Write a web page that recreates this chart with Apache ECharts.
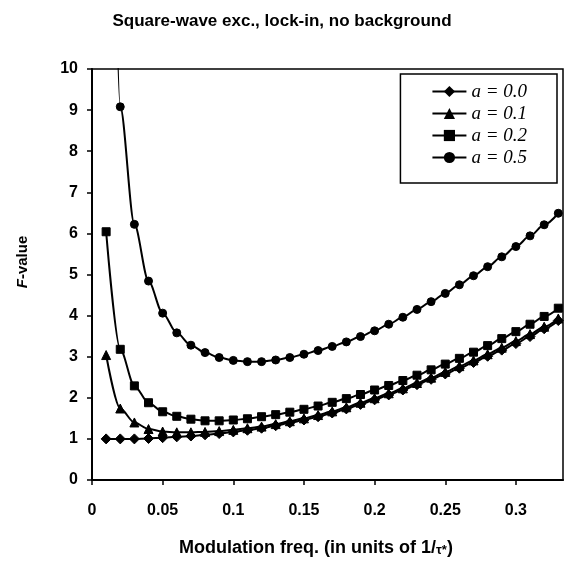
<!DOCTYPE html>
<html>
<head>
<meta charset="utf-8">
<script src="https://cdn.jsdelivr.net/npm/echarts@6/dist/echarts.min.js"></script>
<style>html,body{margin:0;padding:0;background:#fff}#c{width:566px;height:561px}</style>
</head>
<body>
<div id="c"></div>
<script>
// Data
const xValues = [0.01,0.02,0.03,0.04,0.05,0.06,0.07,0.08,0.09,0.10,0.11,0.12,0.13,0.14,0.15,0.16,0.17,0.18,0.19,0.20,0.21,0.22,0.23,0.24,0.25,0.26,0.27,0.28,0.29,0.30,0.31,0.32,0.33];
const a00 = [1.00,1.00,1.00,1.01,1.03,1.05,1.07,1.10,1.13,1.17,1.21,1.26,1.32,1.39,1.46,1.54,1.63,1.73,1.84,1.95,2.07,2.19,2.32,2.45,2.58,2.72,2.86,3.01,3.16,3.32,3.49,3.68,3.88];
const a01 = [3.04,1.74,1.40,1.24,1.18,1.16,1.16,1.17,1.19,1.22,1.26,1.30,1.36,1.43,1.50,1.58,1.67,1.77,1.88,1.99,2.11,2.23,2.36,2.49,2.63,2.77,2.91,3.06,3.22,3.38,3.55,3.73,3.93];
const a02 = [6.04,3.18,2.29,1.88,1.66,1.55,1.48,1.44,1.44,1.46,1.49,1.54,1.59,1.65,1.72,1.80,1.89,1.98,2.08,2.19,2.30,2.42,2.55,2.68,2.82,2.96,3.11,3.27,3.44,3.61,3.79,3.98,4.18];
const a05 = [27.0,9.08,6.22,4.84,4.06,3.58,3.28,3.10,2.98,2.91,2.88,2.88,2.92,2.98,3.06,3.15,3.25,3.36,3.49,3.63,3.79,3.96,4.15,4.34,4.54,4.75,4.97,5.19,5.43,5.68,5.94,6.21,6.49];
const seriesNames = ['a = 0.0','a = 0.1','a = 0.2','a = 0.5'];
const seriesSymbols = ['diamond','triangle','rect','circle'];
const xTicks = [0,0.05,0.1,0.15,0.2,0.25,0.3];
const yTicks = [0,1,2,3,4,5,6,7,8,9,10];

const allData = [a00,a01,a02,a05];
const symSize = {diamond:10, triangle:9, rect:8, circle:8};

const chart = echarts.init(document.getElementById('c'), null, {renderer:'canvas'});
const sans = 'Liberation Sans, Arial, sans-serif';
chart.setOption({
  animation:false,
  backgroundColor:'#fff',
  title:{
    text:'Square-wave exc., lock-in, no background',
    left:277, top:8, textAlign:'center',
    textStyle:{fontFamily:sans, fontWeight:'bold', fontSize:17, color:'#000'}
  },
  grid:{left:92, right:3, top:69, bottom:81, show:true, borderColor:'#000', borderWidth:1.5, containLabel:false},
  legend:{
    orient:'vertical', right:9, top:74,
    padding:[8,30,16,31],
    itemWidth:34, itemHeight:14, itemGap:3,
    borderColor:'#000', borderWidth:1.5, backgroundColor:'#fff',
    textStyle:{fontFamily:'Liberation Serif, Times New Roman, serif', fontStyle:'italic', fontSize:19, lineHeight:19, color:'#000'},
    data:seriesNames
  },
  xAxis:{
    type:'value', min:0, max:1/3, interval:0.05,
    axisLine:{lineStyle:{color:'#000', width:2}},
    axisTick:{show:true, length:5, lineStyle:{color:'#000', width:1.5}},
    splitLine:{show:false},
    axisLabel:{
      margin:23, color:'#000', fontFamily:sans, fontWeight:'bold', fontSize:16,
      showMaxLabel:false,
      formatter:function(v){
        for (const t of xTicks){ if (Math.abs(v-t)<1e-9) return String(t); }
        return '';
      }
    }
  },
  yAxis:{
    type:'value', min:0, max:10, interval:1,
    axisLine:{show:true, lineStyle:{color:'#000', width:2}},
    axisTick:{show:true, length:5, lineStyle:{color:'#000', width:1.5}},
    splitLine:{show:false},
    axisLabel:{
      margin:14, color:'#000', fontFamily:sans, fontWeight:'bold', fontSize:16,
      formatter:function(v){ return yTicks.indexOf(v)>=0 ? String(v) : ''; }
    }
  },
  graphic:[
    {type:'text', x:23, y:262, rotation:Math.PI/2,
     style:{text:'{i|F}-value', align:'center', verticalAlign:'middle',
       fontFamily:sans, fontWeight:'bold', fontSize:15, fill:'#000',
       rich:{i:{fontFamily:sans, fontWeight:'bold', fontStyle:'italic', fontSize:15, fill:'#000'}}}},
    {type:'text', x:316, y:548,
     style:{text:'Modulation freq. (in units of 1/{s|τ*})', align:'center', verticalAlign:'middle',
       fontFamily:sans, fontWeight:'bold', fontSize:18, fill:'#000',
       rich:{s:{fontFamily:sans, fontWeight:'bold', fontSize:13, fill:'#000', padding:[5,0,0,0]}}}}
  ],
  series: seriesNames.map(function(name,i){
    return {
      name:name, type:'line',
      data: xValues.map(function(x,j){ return [x, allData[i][j]]; }),
      symbol: seriesSymbols[i], symbolSize: symSize[seriesSymbols[i]],
      showAllSymbol:true,
      smooth:0.3, smoothMonotone:'x',
      clip:true,
      lineStyle:{color:'#000', width:2},
      itemStyle:{color:'#000', borderColor:'#000'},
      emphasis:{disabled:true}
    };
  })
});
</script>
</body>
</html>
